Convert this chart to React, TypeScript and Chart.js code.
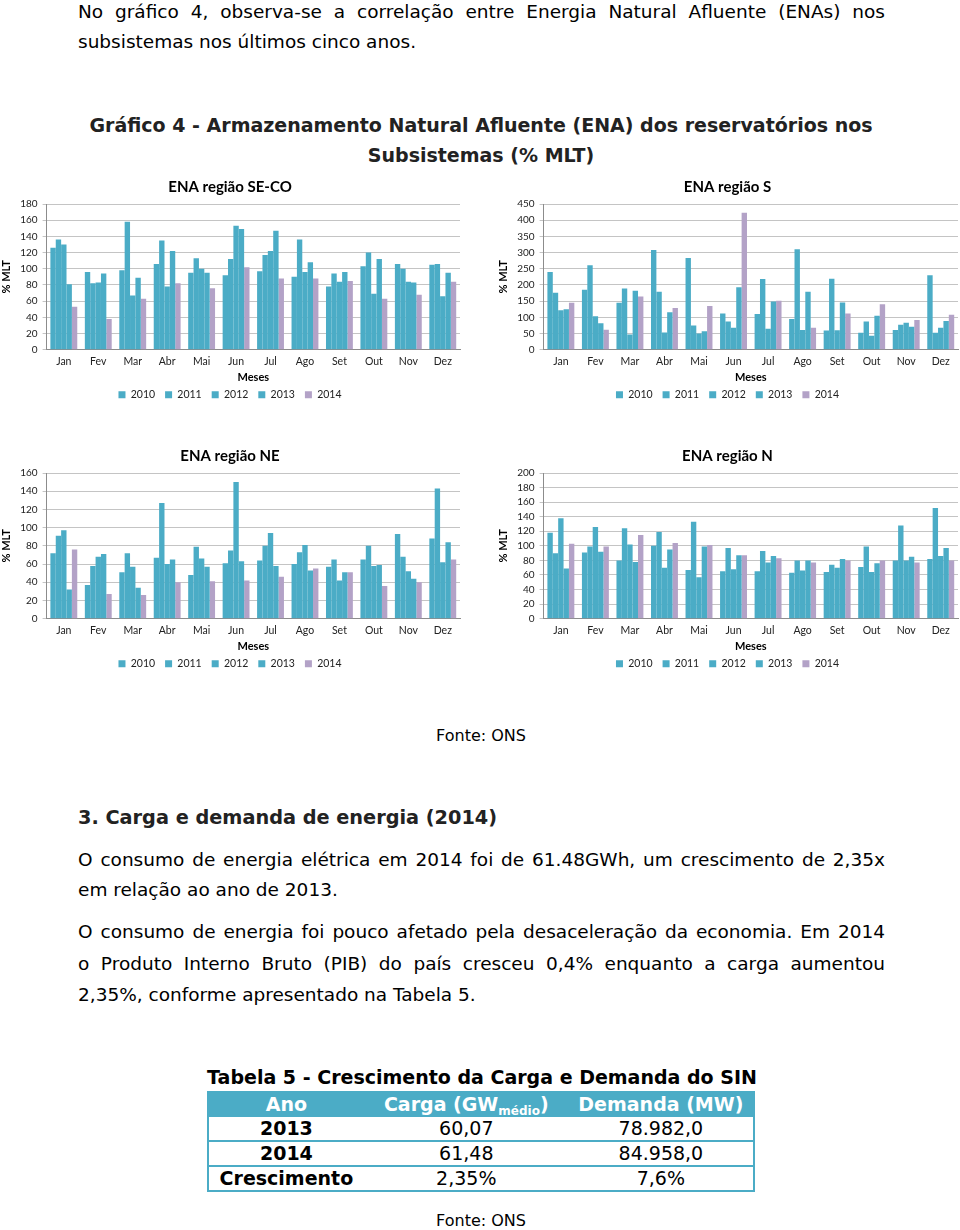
import React, { useEffect, useRef } from 'react';
import { Chart, registerables } from 'chart.js';
Chart.register(...registerables);

const months = ['Jan', 'Fev', 'Mar', 'Abr', 'Mai', 'Jun', 'Jul', 'Ago', 'Set', 'Out', 'Nov', 'Dez'];
const years = ['2010', '2011', '2012', '2013', '2014'];

// ENA região SE-CO
const seco2010 = [126, 96, 98, 106, 95, 92, 97, 90, 78, 103, 106, 105];
const seco2011 = [136, 82, 158, 135, 113, 112, 117, 136, 94, 120, 100, 106];
const seco2012 = [130, 83, 67, 78, 100, 153, 122, 96, 84, 69, 84, 66];
const seco2013 = [81, 94, 89, 122, 95, 149, 147, 108, 96, 112, 83, 95];
const seco2014 = [53, 38, 63, 82, 76, 102, 88, 88, 85, 63, 68, 84];

// ENA região S
const s2010 = [240, 185, 145, 308, 283, 112, 110, 95, 59, 52, 61, 230];
const s2011 = [176, 261, 189, 179, 75, 87, 218, 310, 219, 87, 77, 52];
const s2012 = [122, 103, 47, 53, 50, 68, 65, 61, 60, 43, 83, 68];
const s2013 = [125, 82, 182, 116, 57, 193, 149, 179, 146, 105, 71, 89];
const s2014 = [145, 62, 164, 129, 135, 423, 151, 68, 112, 140, 92, 108];

// ENA região NE
const ne2010 = [72, 37, 51, 67, 48, 61, 64, 60, 57, 65, 93, 88];
const ne2011 = [91, 58, 72, 127, 79, 75, 80, 73, 65, 80, 68, 143];
const ne2012 = [97, 68, 57, 60, 66, 150, 94, 81, 42, 58, 52, 62];
const ne2013 = [32, 71, 34, 65, 57, 63, 58, 53, 51, 59, 44, 84];
const ne2014 = [76, 27, 26, 40, 41, 42, 46, 55, 51, 36, 40, 65];

// ENA região N
const n2010 = [118, 91, 80, 100, 67, 65, 65, 63, 64, 71, 80, 82];
const n2011 = [90, 99, 124, 119, 133, 97, 93, 80, 74, 99, 128, 152];
const n2012 = [138, 126, 102, 70, 57, 68, 77, 66, 70, 64, 80, 86];
const n2013 = [69, 92, 78, 95, 99, 87, 86, 80, 82, 76, 85, 97];
const n2014 = [103, 99, 115, 104, 101, 87, 83, 77, 80, 80, 77, 80];

const TEAL = '#4BACC6';
const LILAC = '#B3A2C7';
const CFONT = 'Lato, "Liberation Sans", sans-serif';
const TFONT = '"DejaVu Sans", Verdana, sans-serif';

type ChartProps = {
  title: string;
  series: number[][];
  max: number;
  step: number;
  left: number;
  top: number;
  width: number;
  height: number;
  padRight: number;
};

function EnaChart({ title, series, max, step, left, top, width, height, padRight }: ChartProps) {
  const ref = useRef<HTMLCanvasElement | null>(null);
  useEffect(() => {
    if (!ref.current) return;
    const chart = new Chart(ref.current, {
      type: 'bar',
      data: {
        labels: months,
        datasets: years.map((y, i) => ({
          label: y,
          data: series[i],
          backgroundColor: i === 4 ? LILAC : TEAL,
          borderWidth: 0,
          categoryPercentage: 0.78,
          barPercentage: 1,
        })),
      },
      options: {
        responsive: false,
        animation: false,
        devicePixelRatio: 1,
        layout: { padding: { left: 0, right: padRight, top: 0, bottom: 2 } },
        plugins: {
          title: {
            display: true,
            text: title,
            color: '#000',
            font: { family: CFONT, size: 15, weight: 'bold' },
            padding: { top: 6, bottom: 8 },
          },
          legend: {
            position: 'bottom',
            labels: {
              boxWidth: 7,
              boxHeight: 7,
              padding: 10,
              color: '#222',
              font: { family: CFONT, size: 10.5 },
            },
          },
          tooltip: { enabled: false },
        },
        scales: {
          x: {
            grid: { display: false, drawTicks: false },
            border: { color: '#8C8C8C' },
            ticks: { color: '#222', font: { family: CFONT, size: 10.5 }, padding: 6, autoSkip: false, maxRotation: 0 },
            title: {
              display: true,
              text: 'Meses',
              color: '#000',
              font: { family: CFONT, size: 11, weight: 'bold' },
              padding: { top: -3, bottom: -5 },
            },
          },
          y: {
            min: 0,
            max: max,
            ticks: { stepSize: step, color: '#222', font: { family: CFONT, size: 10 }, padding: 5, autoSkip: false, maxTicksLimit: 30 },
            grid: { color: '#C4C4C4', tickLength: 4 },
            border: { color: '#8C8C8C' },
            title: {
              display: true,
              text: '% MLT',
              color: '#000',
              font: { family: CFONT, size: 11, weight: 'bold' },
              padding: { top: 0, bottom: 2 },
            },
          },
        },
      },
    });
    return () => chart.destroy();
  }, []);
  return (
    <canvas
      ref={ref}
      width={width}
      height={height}
      style={{ position: 'absolute', left, top, width, height }}
    />
  );
}

const bodyText: React.CSSProperties = {
  position: 'absolute',
  left: 78,
  width: 807,
  fontFamily: TFONT,
  fontSize: 18.5,
  color: '#000',
  whiteSpace: 'nowrap',
};

function Line({ top, text, justify }: { top: number; text: string; justify?: boolean }) {
  return (
    <div
      style={{
        ...bodyText,
        top,
        lineHeight: '24px',
        whiteSpace: justify ? 'normal' : 'nowrap',
        textAlign: justify ? 'justify' : 'left',
        textAlignLast: justify ? 'justify' : 'left',
      }}
    >
      {text}
    </div>
  );
}

const cell: React.CSSProperties = {
  textAlign: 'center',
  padding: 0,
  height: 23,
  lineHeight: '23px',
  borderTop: `2px solid ${TEAL}`,
};

const head: React.CSSProperties = {
  textAlign: 'center',
  padding: 0,
  height: 22,
  lineHeight: '22px',
};

export default function App() {
  return (
    <div style={{ position: 'absolute', left: 0, top: 0, width: 960, height: 1230, background: '#fff', overflow: 'hidden' }}>
      <Line top={0} text="No gráfico 4, observa-se a correlação entre Energia Natural Afluente (ENAs) nos" justify />
      <Line top={30} text="subsistemas nos últimos cinco anos." />

      <div
        style={{
          position: 'absolute',
          left: 0,
          width: 962,
          top: 110,
          textAlign: 'center',
          fontFamily: TFONT,
          fontWeight: 'bold',
          fontSize: 19,
          lineHeight: '30px',
          color: '#222',
        }}
      >
        Gráfico 4 - Armazenamento Natural Afluente (ENA) dos reservatórios nos
        <br />
        Subsistemas (% MLT)
      </div>

      <EnaChart title="ENA região SE-CO" series={[seco2010, seco2011, seco2012, seco2013, seco2014]} max={180} step={20} left={0} top={172} width={470} height={240} padRight={10} />
      <EnaChart title="ENA região S" series={[s2010, s2011, s2012, s2013, s2014]} max={450} step={50} left={497} top={172} width={463} height={240} padRight={2} />
      <EnaChart title="ENA região NE" series={[ne2010, ne2011, ne2012, ne2013, ne2014]} max={160} step={20} left={0} top={441} width={470} height={240} padRight={10} />
      <EnaChart title="ENA região N" series={[n2010, n2011, n2012, n2013, n2014]} max={200} step={20} left={497} top={441} width={463} height={240} padRight={2} />

      <div style={{ position: 'absolute', left: 0, width: 962, top: 726, textAlign: 'center', fontFamily: TFONT, fontSize: 16, lineHeight: '20px' }}>
        Fonte: ONS
      </div>

      <div style={{ position: 'absolute', left: 78, top: 806, fontFamily: TFONT, fontWeight: 'bold', fontSize: 19.3, lineHeight: '24px', color: '#222', whiteSpace: 'nowrap' }}>
        3. Carga e demanda de energia (2014)
      </div>

      <Line top={848} text="O consumo de energia elétrica em 2014 foi de 61.48GWh, um crescimento de 2,35x" justify />
      <Line top={878} text="em relação ao ano de 2013." />
      <Line top={920} text="O consumo de energia foi pouco afetado pela desaceleração da economia. Em 2014" justify />
      <Line top={952} text="o Produto Interno Bruto (PIB) do país cresceu 0,4% enquanto a carga aumentou" justify />
      <Line top={983} text="2,35%, conforme apresentado na Tabela 5." />

      <div style={{ position: 'absolute', left: 204, width: 556, top: 1065, textAlign: 'center', fontFamily: TFONT, fontWeight: 'bold', fontSize: 19, lineHeight: '24px', whiteSpace: 'nowrap' }}>
        Tabela 5 - Crescimento da Carga e Demanda do SIN
      </div>

      <table
        style={{
          position: 'absolute',
          left: 207,
          top: 1091,
          width: 548,
          borderCollapse: 'collapse',
          border: `2px solid ${TEAL}`,
          fontFamily: TFONT,
          fontSize: 19,
        }}
      >
        <colgroup>
          <col style={{ width: 156 }} />
          <col style={{ width: 206 }} />
          <col style={{ width: 186 }} />
        </colgroup>
        <tbody>
          <tr style={{ background: TEAL, color: '#fff', fontWeight: 'bold' }}>
            <td style={head}>Ano</td>
            <td style={head}>
              Carga (GW
              <span style={{ fontSize: 12, position: 'relative', top: 4, lineHeight: 0 }}>médio</span>)
            </td>
            <td style={head}>Demanda (MW)</td>
          </tr>
          <tr>
            <td style={{ ...cell, fontWeight: 'bold' }}>2013</td>
            <td style={cell}>60,07</td>
            <td style={cell}>78.982,0</td>
          </tr>
          <tr>
            <td style={{ ...cell, fontWeight: 'bold' }}>2014</td>
            <td style={cell}>61,48</td>
            <td style={cell}>84.958,0</td>
          </tr>
          <tr>
            <td style={{ ...cell, fontWeight: 'bold' }}>Crescimento</td>
            <td style={cell}>2,35%</td>
            <td style={cell}>7,6%</td>
          </tr>
        </tbody>
      </table>

      <div style={{ position: 'absolute', left: 0, width: 962, top: 1211, textAlign: 'center', fontFamily: TFONT, fontSize: 16, lineHeight: '20px' }}>
        Fonte: ONS
      </div>
    </div>
  );
}
